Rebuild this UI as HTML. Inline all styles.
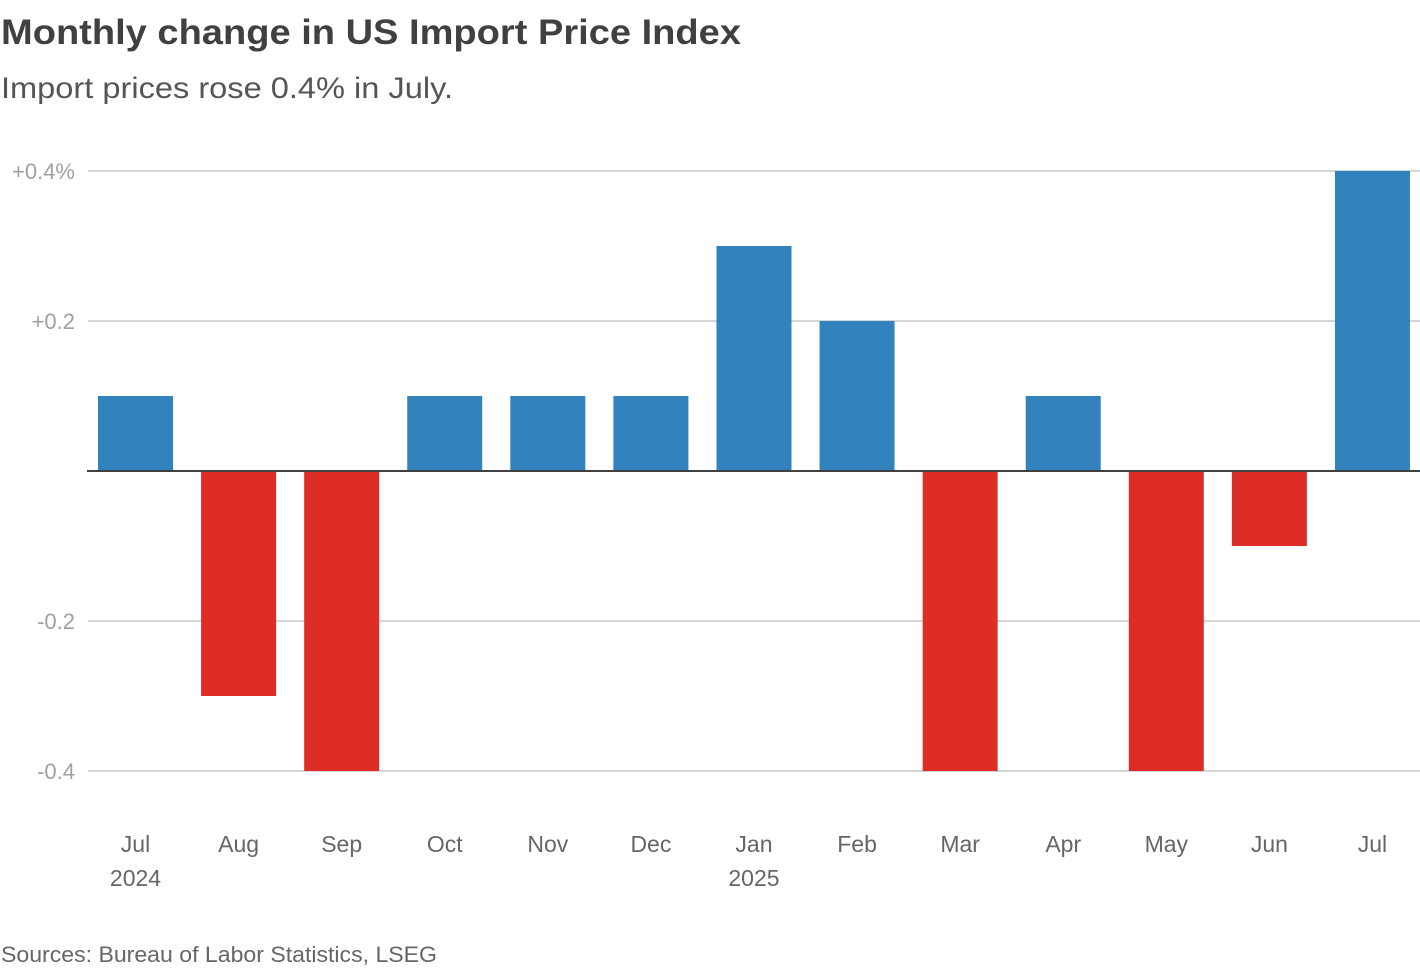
<!DOCTYPE html>
<html><head><meta charset="utf-8"><style>
html,body{margin:0;padding:0;background:#fff;}
svg{display:block;font-family:"Liberation Sans",sans-serif;}
</style></head><body>
<svg id="chart" width="1420" height="968" viewBox="0 0 1420 968">
<text x="1" y="44" font-size="35" font-weight="bold" fill="#404040" textLength="740" lengthAdjust="spacingAndGlyphs">Monthly change in US Import Price Index</text>
<text x="1" y="98" font-size="30" fill="#555" textLength="452" lengthAdjust="spacingAndGlyphs">Import prices rose 0.4% in July.</text>
<g id="grid"></g>
<g id="bars"></g>
<g id="xlabels"></g>
<text x="1" y="962" font-size="22" fill="#666" textLength="436" lengthAdjust="spacingAndGlyphs">Sources: Bureau of Labor Statistics, LSEG</text>
</svg>
<script>
const months = ["Jul","Aug","Sep","Oct","Nov","Dec","Jan","Feb","Mar","Apr","May","Jun","Jul"];
const years = ["2024","","","","","","2025","","","","","",""];
const values = [0.1,-0.3,-0.4,0.1,0.1,0.1,0.3,0.2,-0.4,0.1,-0.4,-0.1,0.4];
const yTicks = [0.4,0.2,-0.2,-0.4];
const yTickLabels = ["+0.4%","+0.2","-0.2","-0.4"];
const NS="http://www.w3.org/2000/svg";
const y = v => 471 - v*750;
const xc = i => 135.5 + i*103.08;
const bw = 75;
function mk(tag, attrs, parent){const e=document.createElementNS(NS,tag);for(const k in attrs)e.setAttribute(k,attrs[k]);parent.appendChild(e);return e;}
const grid=document.getElementById('grid');
yTicks.forEach((t,i)=>{
  const l=mk('line',{x1:88,x2:1420,y1:y(t),y2:y(t),stroke:'#c8c8c8','stroke-width':1.5},grid);
  
  
  const tx=mk('text',{x:75,y:y(t)+8,'text-anchor':'end','font-size':22,fill:'#a0a0a0'},grid);
  tx.textContent=yTickLabels[i];
  
  
});
const bars=document.getElementById('bars');
values.forEach((v,i)=>{
  const top=Math.min(y(v),y(0)), h=Math.abs(y(v)-y(0));
  const r=mk('rect',{x:xc(i)-bw/2,y:top,width:bw,height:h,fill:v>=0?'#3182bd':'#de2d26'},bars);
  
  
});
const z=mk('line',{x1:87,x2:1420,y1:y(0),y2:y(0),stroke:'#404040','stroke-width':2},bars);


const xl=document.getElementById('xlabels');
months.forEach((m,i)=>{
  const t=mk('text',{x:xc(i),y:852,'text-anchor':'middle','font-size':23,fill:'#666'},xl);
  t.textContent=m;
  
  
  if(years[i]){
    const t2=mk('text',{x:xc(i),y:886,'text-anchor':'middle','font-size':23,fill:'#666'},xl);
    t2.textContent=years[i];
    
    
  }
});
</script>
</body></html>
